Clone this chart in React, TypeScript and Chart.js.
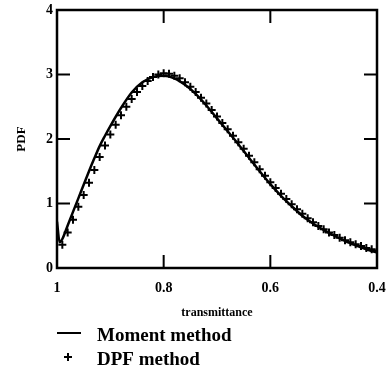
import React, { useEffect, useRef } from 'react';
import { Chart, registerables } from 'chart.js';

Chart.register(...registerables);

const X_TICKS = [1, 0.8, 0.6, 0.4];
const Y_TICKS = [0, 1, 2, 3, 4];
const INNER_X_TICKS = [0.8, 0.6];
const INNER_Y_TICKS = [1, 2, 3];
const SERIES_NAMES = ['Moment method', 'DPF method'];
const X_TITLE = 'transmittance';
const Y_TITLE = 'PDF';

const MOMENT_T = [1.0, 0.995, 0.99, 0.98, 0.97, 0.96, 0.95, 0.94, 0.93, 0.92, 0.91, 0.9, 0.88, 0.86, 0.84, 0.82, 0.8, 0.78, 0.76, 0.74, 0.72, 0.7, 0.68, 0.66, 0.64, 0.62, 0.6, 0.58, 0.56, 0.54, 0.52, 0.5, 0.48, 0.46, 0.44, 0.42, 0.4];
const MOMENT_PDF = [0.72, 0.4, 0.45, 0.66, 0.87, 1.08, 1.29, 1.5, 1.7, 1.89, 2.05, 2.2, 2.48, 2.72, 2.88, 2.96, 2.98, 2.94, 2.84, 2.7, 2.52, 2.32, 2.12, 1.92, 1.71, 1.5, 1.3, 1.12, 0.96, 0.81, 0.69, 0.59, 0.5, 0.42, 0.35, 0.29, 0.24];

const DPF_T = [0.99, 0.98, 0.97, 0.96, 0.95, 0.94, 0.93, 0.92, 0.91, 0.9, 0.89, 0.88, 0.87, 0.86, 0.85, 0.84, 0.83, 0.82, 0.81, 0.8, 0.79, 0.78, 0.77, 0.76, 0.75, 0.74, 0.73, 0.72, 0.71, 0.7, 0.69, 0.68, 0.67, 0.66, 0.65, 0.64, 0.63, 0.62, 0.61, 0.6, 0.59, 0.58, 0.57, 0.56, 0.55, 0.54, 0.53, 0.52, 0.51, 0.5, 0.49, 0.48, 0.47, 0.46, 0.45, 0.44, 0.43, 0.42, 0.41, 0.4];
const DPF_PDF = [0.36, 0.55, 0.75, 0.95, 1.13, 1.32, 1.52, 1.72, 1.9, 2.07, 2.22, 2.37, 2.5, 2.62, 2.73, 2.82, 2.9, 2.96, 3.0, 3.02, 3.01, 2.98, 2.94, 2.88, 2.81, 2.73, 2.64, 2.55, 2.45, 2.35, 2.25, 2.15, 2.05, 1.95, 1.85, 1.74, 1.64, 1.53, 1.43, 1.33, 1.24, 1.15, 1.07, 0.99, 0.91, 0.84, 0.77, 0.71, 0.65, 0.6, 0.55, 0.51, 0.47, 0.43, 0.4, 0.37, 0.34, 0.31, 0.29, 0.27];

const FONT = 'Liberation Serif';

export default function App() {
  const ref = useRef<HTMLCanvasElement>(null);

  useEffect(() => {
    document.body.style.margin = '0';
    const framePlugin = {
      id: 'frame',
      afterDatasetsDraw(chart: any) {
        const { ctx, chartArea } = chart;
        const { left, right, top, bottom } = chartArea;
        const xs = chart.scales.x;
        const ys = chart.scales.y;
        const tl = 13;
        ctx.save();
        ctx.strokeStyle = '#000';
        ctx.lineWidth = 2.5;
        ctx.strokeRect(left, top, right - left, bottom - top);
        ctx.lineWidth = 2;
        ctx.beginPath();
        INNER_Y_TICKS.forEach((v) => {
          const y = ys.getPixelForValue(v);
          ctx.moveTo(left, y);
          ctx.lineTo(left + tl, y);
          ctx.moveTo(right, y);
          ctx.lineTo(right - tl, y);
        });
        INNER_X_TICKS.forEach((v) => {
          const x = xs.getPixelForValue(v);
          ctx.moveTo(x, top);
          ctx.lineTo(x, top + tl);
          ctx.moveTo(x, bottom);
          ctx.lineTo(x, bottom - tl);
        });
        ctx.stroke();
        ctx.restore();
      },
      afterDraw(chart: any) {
        const { ctx, chartArea } = chart;
        const left = chartArea.left;
        ctx.save();
        ctx.strokeStyle = '#000';
        ctx.fillStyle = '#000';
        const y1 = 333;
        ctx.lineWidth = 2;
        ctx.beginPath();
        ctx.moveTo(left, y1);
        ctx.lineTo(left + 24, y1);
        ctx.stroke();
        const y2 = 357;
        const cx = left + 11;
        ctx.beginPath();
        ctx.moveTo(cx - 4, y2);
        ctx.lineTo(cx + 4, y2);
        ctx.moveTo(cx, y2 - 4);
        ctx.lineTo(cx, y2 + 4);
        ctx.stroke();
        ctx.font = `bold 19px "${FONT}"`;
        ctx.textBaseline = 'middle';
        ctx.textAlign = 'left';
        ctx.fillText(SERIES_NAMES[0], left + 40, y1 + 3);
        ctx.fillText(SERIES_NAMES[1], left + 40, y2 + 3);
        ctx.restore();
      },
    };

    const chart = new Chart(ref.current as HTMLCanvasElement, {
      type: 'line',
      data: {
        datasets: [
          {
            label: SERIES_NAMES[0],
            data: MOMENT_T.map((t, i) => ({ x: t, y: MOMENT_PDF[i] })),
            borderColor: '#000',
            borderWidth: 2.5,
            pointRadius: 0,
            cubicInterpolationMode: 'monotone',
            fill: false,
          },
          {
            label: SERIES_NAMES[1],
            data: DPF_T.map((t, i) => ({ x: t, y: DPF_PDF[i] })),
            showLine: false,
            pointStyle: 'cross',
            pointRadius: 4,
            borderColor: '#000',
            pointBorderColor: '#000',
            pointBorderWidth: 2,
            borderWidth: 2,
          },
        ],
      },
      options: {
        animation: false,
        responsive: false,
        devicePixelRatio: 1,
        layout: { padding: { left: 14, top: 10, right: 14, bottom: 56 } },
        plugins: { legend: { display: false }, tooltip: { enabled: false } },
        scales: {
          x: {
            type: 'linear',
            reverse: true,
            min: 0.4,
            max: 1,
            afterBuildTicks: (s: any) => {
              s.ticks = X_TICKS.map((v) => ({ value: v }));
            },
            afterFit: (s: any) => {
              s.height = 52;
              s.paddingLeft = 0;
              s.paddingRight = 0;
            },
            grid: { display: false, drawTicks: false },
            border: { display: false },
            ticks: {
              padding: 12,
              color: '#000',
              autoSkip: false,
              maxRotation: 0,
              font: { family: FONT, size: 14, weight: 'bold' },
              callback: (v: any) => String(v),
            },
            title: {
              display: true,
              text: X_TITLE,
              color: '#000',
              font: { family: FONT, size: 12, weight: 'bold' },
              padding: { top: 0, bottom: 0 },
            },
          },
          y: {
            type: 'linear',
            min: 0,
            max: 4,
            afterBuildTicks: (s: any) => {
              s.ticks = Y_TICKS.map((v) => ({ value: v }));
            },
            afterFit: (s: any) => {
              s.width = 43;
              s.paddingTop = 0;
              s.paddingBottom = 0;
            },
            grid: { display: false, drawTicks: false },
            border: { display: false },
            ticks: {
              padding: 4,
              color: '#000',
              font: { family: FONT, size: 14, weight: 'bold' },
              callback: (v: any) => String(v),
            },
            title: {
              display: true,
              text: Y_TITLE,
              color: '#000',
              font: { family: FONT, size: 13, weight: 'bold' },
              padding: { top: 0, bottom: 0 },
            },
          },
        },
      },
      plugins: [framePlugin],
    } as any);
    return () => chart.destroy();
  }, []);

  return (
    <div style={{ position: 'absolute', left: 0, top: 0, width: 391, height: 376, background: '#fff' }}>
      <canvas ref={ref} width={391} height={376} style={{ display: 'block' }} />
    </div>
  );
}
